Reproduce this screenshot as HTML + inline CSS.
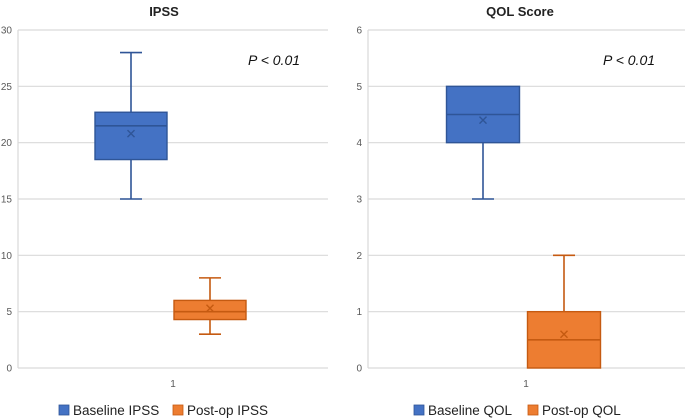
<!DOCTYPE html>
<html><head><meta charset="utf-8"><style>
body{margin:0;background:#fff;}
svg{display:block;font-family:"Liberation Sans",sans-serif;}
</style></head><body>
<svg id="chart" width="685" height="420" viewBox="0 0 685 420"></svg>
<script>
const ipssCategories = ["Baseline IPSS", "Post-op IPSS"];
const ipssMin = [15, 3];
const ipssQ1 = [18.5, 4.3];
const ipssMedian = [21.5, 5];
const ipssQ3 = [22.7, 6];
const ipssMax = [28, 8];
const ipssMean = [20.8, 5.3];
const ipssTicks = [0, 5, 10, 15, 20, 25, 30];

const qolCategories = ["Baseline QOL", "Post-op QOL"];
const qolMin = [3, 0];
const qolQ1 = [4, 0];
const qolMedian = [4.5, 0.5];
const qolQ3 = [5, 1];
const qolMax = [5, 2];
const qolMean = [4.4, 0.6];
const qolTicks = [0, 1, 2, 3, 4, 5, 6];

const NS = "http://www.w3.org/2000/svg";
const svg = document.getElementById("chart");
const fills = ["#4472C4", "#ED7D31"];
const strokes = ["#2F5597", "#C55A11"];

function mk(tag, attrs, parent) {
  const e = document.createElementNS(NS, tag);
  for (const k in attrs) e.setAttribute(k, attrs[k]);
  (parent || svg).appendChild(e);
  return e;
}

function drawPanel(p) {
  const g = mk("g", {});
  
  
  const maxV = p.ticks[p.ticks.length - 1];
  const y = v => p.y0 - (v / maxV) * (p.y0 - p.y1);
  // gridlines and ticks
  p.ticks.forEach(t => {
    const l = mk("line", {x1: p.x0, x2: p.x1, y1: y(t), y2: y(t), stroke: "#d9d9d9", "stroke-width": 1.2}, g);
    
    
    const tx = mk("text", {x: p.x0 - 6, y: y(t) + 3.5, "text-anchor": "end", "font-size": 10, fill: "#595959"}, g);
    tx.textContent = t;
    
    
  });
  const ax = mk("line", {x1: p.x0, x2: p.x0, y1: p.y1, y2: p.y0, stroke: "#d9d9d9", "stroke-width": 1.2}, g);
  
  
  // boxes
  p.cats.forEach((c, i) => {
    const cx = p.centers[i], hw = p.boxW / 2, cw = 11;
    const bg = mk("g", {}, g);
    
    
    const st = {stroke: strokes[i], "stroke-width": 1.6};
    if (p.max[i] > p.q3[i]) {
      mk("line", Object.assign({x1: cx, x2: cx, y1: y(p.max[i]), y2: y(p.q3[i])}, st), bg);
      mk("line", Object.assign({x1: cx - cw, x2: cx + cw, y1: y(p.max[i]), y2: y(p.max[i])}, st), bg);
    }
    if (p.min[i] < p.q1[i]) {
      mk("line", Object.assign({x1: cx, x2: cx, y1: y(p.q1[i]), y2: y(p.min[i])}, st), bg);
      mk("line", Object.assign({x1: cx - cw, x2: cx + cw, y1: y(p.min[i]), y2: y(p.min[i])}, st), bg);
    }
    mk("rect", {x: cx - hw, y: y(p.q3[i]), width: p.boxW, height: y(p.q1[i]) - y(p.q3[i]), fill: fills[i], stroke: strokes[i], "stroke-width": 1.4}, bg);
    mk("line", Object.assign({x1: cx - hw, x2: cx + hw, y1: y(p.med[i]), y2: y(p.med[i])}, st), bg);
    const my = y(p.mean[i]), s = 3.5;
    mk("path", {d: `M${cx-s},${my-s}L${cx+s},${my+s}M${cx-s},${my+s}L${cx+s},${my-s}`, stroke: strokes[i], "stroke-width": 1.4}, bg);
  });
  const title = mk("text", {x: p.titleX, y: 16, "text-anchor": "middle", "font-size": 13, "font-weight": "bold", fill: "#222"}, g);
  title.textContent = p.title;
  
  
  const pv = mk("text", {x: p.pX, y: 65, "font-size": 14, "font-style": "italic", fill: "#111"}, g);
  pv.textContent = "P < 0.01";
  
  
  const cl = mk("text", {x: p.catX, y: 387, "text-anchor": "middle", "font-size": 10, fill: "#595959"}, g);
  cl.textContent = "1";
  
  
  p.cats.forEach((c, i) => {
    const lg = mk("g", {}, g);
    
    
    mk("rect", {x: p.legX[i], y: 405, width: 10, height: 10, fill: fills[i], stroke: strokes[i], "stroke-width": 0.8}, lg);
    const t = mk("text", {x: p.legX[i] + 14, y: 415, "font-size": 13.5, fill: "#222"}, lg);
    t.textContent = c;
  });
}

drawPanel({name: "ipss-panel", title: "IPSS", titleX: 164, x0: 18, x1: 328, y0: 368, y1: 30,
  ticks: ipssTicks, cats: ipssCategories, min: ipssMin, q1: ipssQ1, med: ipssMedian, q3: ipssQ3, max: ipssMax, mean: ipssMean,
  centers: [131, 210], boxW: 72, pX: 248, catX: 173, legX: [59, 173]});
drawPanel({name: "qol-panel", title: "QOL Score", titleX: 520, x0: 368, x1: 685, y0: 368, y1: 30,
  ticks: qolTicks, cats: qolCategories, min: qolMin, q1: qolQ1, med: qolMedian, q3: qolQ3, max: qolMax, mean: qolMean,
  centers: [483, 564], boxW: 73, pX: 603, catX: 526, legX: [414, 528]});
</script>
</body></html>
